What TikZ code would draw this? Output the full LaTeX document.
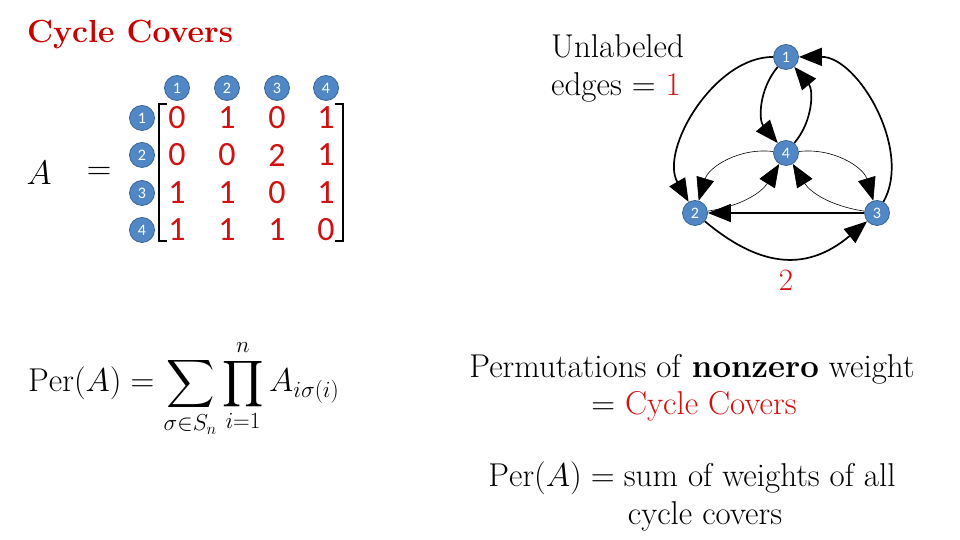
\documentclass[tikz,border=0pt]{standalone}
\usepackage{fix-cm}
\usepackage{amsmath}
\usepackage{graphicx}
\usepackage{fontspec}
\newfontfamily\calibrifont{Carlito}
\usetikzlibrary{arrows.meta}
\definecolor{cred}{HTML}{D01212}
\definecolor{tred}{HTML}{C80000}
\definecolor{nodeblue}{HTML}{5087C4}
\definecolor{nodeborder}{HTML}{3A6596}
\newcommand{\bigsumop}{\mathop{\vcenter{\hbox{\scalebox{1.35}{$\displaystyle\sum$}}}}\limits}
\newcommand{\bigprodop}{\mathop{\vcenter{\hbox{\scalebox{1.3}{$\displaystyle\prod$}}}}\limits}
\tikzset{
  mnum/.style={circle, fill=nodeblue, draw=nodeborder, line width=0.8pt, minimum size=25pt, inner sep=0pt, text=white, font=\calibrifont\fontsize{16}{16}\selectfont},
  gnode/.style={mnum, minimum size=25pt},
  entry/.style={text=cred, font=\calibrifont\fontsize{34}{34}\selectfont, inner sep=0pt},
  body/.style={font=\fontsize{33}{38}\selectfont, inner sep=0pt},
  tip/.style={-{Triangle[length=23pt,width=18pt]}},
  thickedge/.style={tip, line width=1.7pt},
  thinedge/.style={tip, line width=0.6pt},
  bracket/.style={line width=1.8pt}
}
\begin{document}
\begin{tikzpicture}[x=1pt,y=1pt]
\useasboundingbox (0,0) rectangle (960,540);
\fill[white] (0,0) rectangle (960,540);
% title
\node[anchor=base west, inner sep=0pt, text=tred, font=\bfseries\fontsize{32}{32}\selectfont] (title) at (27,497) {Cycle Covers};
% matrix
\node[font=\fontsize{34}{34}\selectfont, inner sep=0pt] (Aname) at (39,367) {$A$};
\node[font=\fontsize{34}{34}\selectfont, inner sep=0pt] (Aeq) at (99,367) {$=$};
\foreach \c/\x in {1/177,2/227,3/277,4/326}{
  \node[mnum] (col\c) at (\x,452) {\c};
}
\foreach \r/\y in {1/422,2/385,3/347,4/310}{
  \node[mnum] (row\r) at (142,\y) {\r};
}
\foreach \r/\y/\a/\b/\cc/\d in {1/422/0/1/0/1, 2/385/0/0/2/1, 3/347/1/1/0/1, 4/310/1/1/1/0}{
  \node[entry] (e\r1) at (177,\y) {\a};
  \node[entry] (e\r2) at (227,\y) {\b};
  \node[entry] (e\r3) at (277,\y) {\cc};
  \node[entry] (e\r4) at (326,\y) {\d};
}
\draw[bracket] (167,436) -- (159,436) -- (159,299) -- (167,299);
\draw[bracket] (335,436) -- (343,436) -- (343,299) -- (335,299);
% permanent formula
\node[anchor=base west, inner sep=0pt, font=\fontsize{33}{33}\selectfont] (perdef) at (28,148)
  {$\displaystyle \mathrm{Per}(A)=\bigsumop_{\sigma\in S_n}\bigprodop_{i=1}^{n}A_{i\sigma(i)}$};
% graph caption
\node[anchor=base west, body] (unl1) at (551,482) {Unlabeled};
\node[anchor=base west, body] (unl2) at (551,444) {edges = \textcolor{cred}{1}};
% graph
\node[gnode] (n1) at (786,483) {1};
\node[gnode] (n4) at (786,387) {4};
\node[gnode] (n2) at (695,327) {2};
\node[gnode] (n3) at (877,327) {3};
\draw[thickedge] (n1) to[bend right=60, looseness=0.9] (n2);
\draw[thickedge] (n3) to[bend right=60, looseness=0.9] (n1);
\draw[thickedge] (n2) to[bend right=40, looseness=1.2] (n3);
\draw[thickedge] (n3) -- (n2);
\draw[thickedge] (n1) to[bend right=40] (n4);
\draw[thickedge] (n4) to[bend right=40] (n1);
\draw[thinedge] (n4) to[bend right=40] (n2);
\draw[thinedge] (n2) to[bend right=25] (n4);
\draw[thinedge] (n4) to[bend left=40] (n3);
\draw[thinedge] (n3) to[bend left=25] (n4);
\node[text=cred, font=\fontsize{31}{31}\selectfont, inner sep=0pt] (wlab) at (786,260) {2};
% texts
\node[anchor=base, body] (perm1) at (692,162) {Permutations of \textbf{nonzero} weight};
\node[anchor=base, body] (perm2) at (694,125) {= \textcolor{cred}{Cycle Covers}};
\node[anchor=base, body] (sum1) at (692,53) {$\mathrm{Per}(A) = {}$sum of weights of all};
\node[anchor=base, body] (sum2) at (705,15) {cycle covers};
\end{tikzpicture}
\end{document}
